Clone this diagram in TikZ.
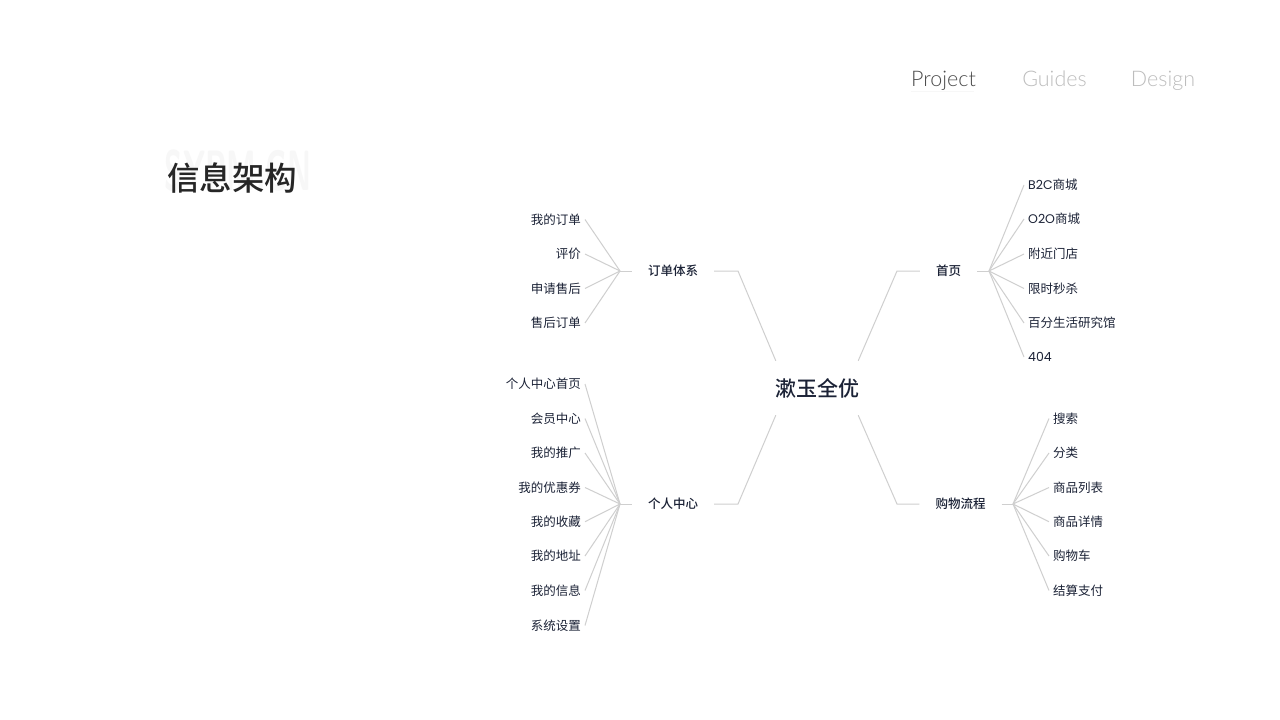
\documentclass[tikz,border=0pt]{standalone}
\usepackage{fontspec}
\setmainfont{Noto Sans CJK SC}
\newfontfamily\mediumfont{Noto Sans CJK SC Medium}
\newfontfamily\latinfont{Poppins}
\newfontfamily\navfont[UprightFont=* Light]{Lato}
\definecolor{inkblue}{HTML}{1B2236}
\definecolor{linegray}{HTML}{CFCFCF}
\definecolor{navgray}{HTML}{BDBDBD}
\tikzset{
	leafright/.style={anchor=west, inner sep=4pt},
	leafleft/.style={anchor=east, inner sep=4pt},
	branch/.style={inner xsep=16pt, inner ysep=4pt, font=\mediumfont\fontsize{12.5}{15}\selectfont},
	wire/.style={linegray, line width=1pt},
	nav/.style={font=\navfont\fontsize{21.5}{25}\selectfont, anchor=base, inner sep=0pt}
}
\begin{document}
\begin{tikzpicture}[x=1pt, y=-1pt, every node/.append style={text=inkblue, font=\fontsize{12.5}{15}\selectfont}]
	\useasboundingbox[fill=white] (0,0) rectangle (1280,720);

	\fill[black!3] (911,91) rectangle (974,92);
	\node[nav, text=black!70] (project) at (943.5,86) {Project};
	\node[nav, text=navgray] (guides) at (1054.5,86) {Guides};
	\node[nav, text=navgray] (design) at (1163,86) {Design};

	\node[text=black!3, inner sep=0pt, font=\sffamily\bfseries\fontsize{34}{40}\selectfont] (ghost) at (238,171) {\scalebox{.89}[1.67]{SYPM.CN}};
	\node[text=black!85, inner sep=0pt, font=\mediumfont\fontsize{32.5}{38}\selectfont] (title) at (232,178) {信息架构};

	\node[minimum height=54pt, inner sep=0pt, font=\mediumfont\fontsize{21}{25}\selectfont] (hub) at (817,388) {\makebox[82pt]{\raisebox{1pt}{漱玉全优}}};

	\node[branch] (home) at (948.5,271) {首页};
	\node[branch] (order) at (673,271) {订单体系};
	\node[branch] (user) at (673,504) {个人中心};
	\node[branch] (shop) at (960.5,504) {购物流程};

	\coordinate (homebend) at (897,271);
	\coordinate (orderbend) at (738,271);
	\coordinate (userbend) at (738,504);
	\coordinate (shopbend) at (897,504);
	\coordinate (homefan) at (989,271);
	\coordinate (orderfan) at (620,271);
	\coordinate (userfan) at (620,504);
	\coordinate (shopfan) at (1013,504);

	\draw[wire] (hub.north east) -- (homebend) -- (home.west);
	\draw[wire] (hub.north west) -- (orderbend) -- (order.east);
	\draw[wire] (hub.south west) -- (userbend) -- (user.east);
	\draw[wire] (hub.south east) -- (shopbend) -- (shop.west);
	\draw[wire] (home.east) -- (homefan);
	\draw[wire] (order.west) -- (orderfan);
	\draw[wire] (user.west) -- (userfan);
	\draw[wire] (shop.east) -- (shopfan);

	\node[leafright] (h1) at (1024,185) {{\latinfont B2C}商城};
	\node[leafright] (h2) at (1024,219) {{\latinfont O2O}商城};
	\node[leafright] (h3) at (1024,254) {附近门店};
	\node[leafright] (h4) at (1024,288.5) {限时秒杀};
	\node[leafright] (h5) at (1024,323) {百分生活研究馆};
	\node[leafright] (h6) at (1024,357) {\latinfont 404};
	\foreach \n in {h1,h2,h3,h4,h5,h6}
		\draw[wire] (homefan) -- (\n.west);

	\node[leafright] (s1) at (1049,418.5) {搜索};
	\node[leafright] (s2) at (1049,453) {分类};
	\node[leafright] (s3) at (1049,487.5) {商品列表};
	\node[leafright] (s4) at (1049,521.7) {商品详情};
	\node[leafright] (s5) at (1049,556) {购物车};
	\node[leafright] (s6) at (1049,590.5) {结算支付};
	\foreach \n in {s1,s2,s3,s4,s5,s6}
		\draw[wire] (shopfan) -- (\n.west);

	\node[leafleft] (o1) at (585,219.5) {我的订单};
	\node[leafleft] (o2) at (585,254) {评价};
	\node[leafleft] (o3) at (585,288.5) {申请售后};
	\node[leafleft] (o4) at (585,323) {售后订单};
	\foreach \n in {o1,o2,o3,o4}
		\draw[wire] (orderfan) -- (\n.east);

	\node[leafleft] (u1) at (585,384) {个人中心首页};
	\node[leafleft] (u2) at (585,418.5) {会员中心};
	\node[leafleft] (u3) at (585,453) {我的推广};
	\node[leafleft] (u4) at (585,487.5) {我的优惠券};
	\node[leafleft] (u5) at (585,521.7) {我的收藏};
	\node[leafleft] (u6) at (585,556) {我的地址};
	\node[leafleft] (u7) at (585,590.5) {我的信息};
	\node[leafleft] (u8) at (585,625.5) {系统设置};
	\foreach \n in {u1,u2,u3,u4,u5,u6,u7,u8}
		\draw[wire] (userfan) -- (\n.east);
\end{tikzpicture}
\end{document}
